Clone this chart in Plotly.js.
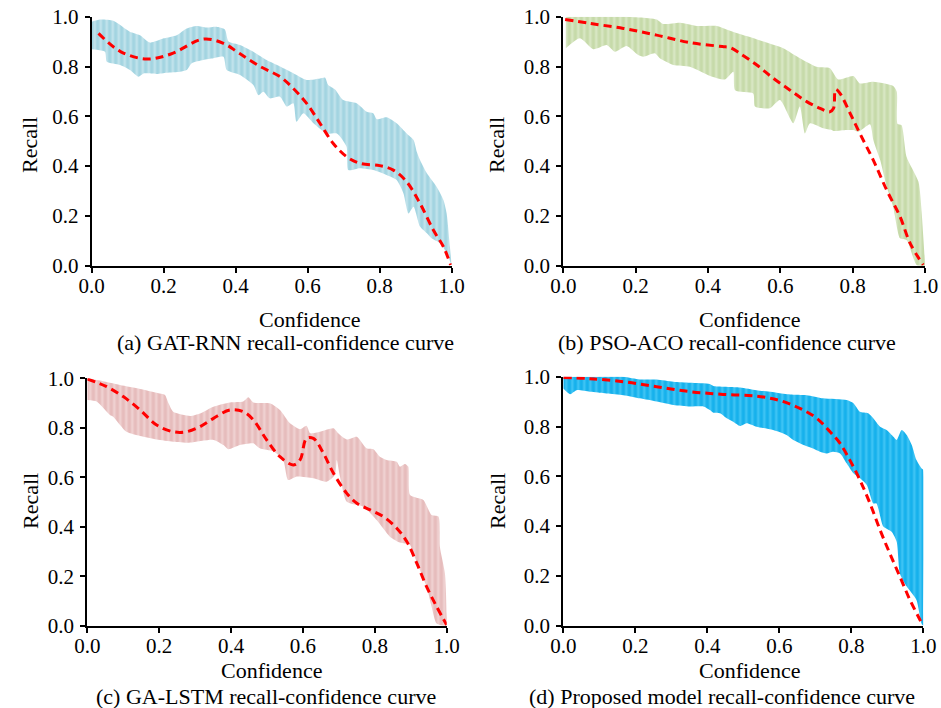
<!DOCTYPE html>
<html>
<head>
<meta charset="utf-8">
<script src="https://cdn.plot.ly/plotly-3.0.1.min.js"></script>
<style>html,body{margin:0;padding:0;background:#fff;}#chart{width:941px;height:708px;}</style>
</head>
<body>
<div id="chart"></div>
<script>
// ---------- Panel (a) GAT-RNN ----------
const aMeanX = [0.019,0.08,0.153,0.22,0.31,0.366,0.41,0.468,0.523,0.56,0.597,0.634,0.671,0.708,0.745,0.80,0.838,0.875,0.912,0.949,0.977,0.997];
const aMeanY = [0.933,0.86,0.83,0.85,0.91,0.893,0.853,0.80,0.759,0.712,0.652,0.572,0.491,0.438,0.411,0.402,0.384,0.337,0.25,0.143,0.076,0.003];
const aUpX = [0,0.023,0.06,0.106,0.134,0.162,0.2,0.236,0.264,0.292,0.319,0.347,0.37,0.38,0.412,0.449,0.486,0.523,0.56,0.597,0.634,0.648,0.657,0.676,0.699,0.736,0.764,0.782,0.792,0.819,0.847,0.875,0.894,0.903,0.912,0.931,0.958,0.977,0.986,0.995,1.0];
const aUpY = [0.98,0.989,0.984,0.94,0.926,0.896,0.913,0.926,0.953,0.963,0.957,0.96,0.949,0.90,0.886,0.859,0.826,0.80,0.773,0.746,0.752,0.756,0.726,0.708,0.665,0.652,0.618,0.612,0.588,0.596,0.572,0.531,0.505,0.458,0.424,0.371,0.317,0.264,0.21,0.076,0.0];
const aLoX = [0,0.037,0.042,0.079,0.106,0.13,0.144,0.181,0.208,0.245,0.264,0.278,0.31,0.338,0.366,0.375,0.412,0.449,0.463,0.477,0.495,0.523,0.542,0.56,0.569,0.588,0.616,0.653,0.681,0.708,0.713,0.745,0.782,0.819,0.847,0.866,0.88,0.894,0.912,0.931,0.944,0.968,0.986,1.0];
const aLoY = [0.869,0.859,0.819,0.806,0.786,0.759,0.772,0.77,0.775,0.779,0.786,0.813,0.826,0.833,0.839,0.786,0.766,0.726,0.685,0.699,0.672,0.679,0.639,0.652,0.578,0.612,0.572,0.531,0.531,0.478,0.384,0.391,0.384,0.364,0.344,0.29,0.21,0.237,0.157,0.13,0.11,0.09,0.05,0.0];

// ---------- Panel (b) PSO-ACO ----------
const bMeanX = [0.005,0.074,0.166,0.258,0.35,0.44,0.461,0.488,0.535,0.581,0.627,0.673,0.71,0.737,0.747,0.753,0.765,0.793,0.82,0.857,0.894,0.931,0.959,0.995];
const bMeanY = [0.989,0.973,0.953,0.926,0.896,0.88,0.876,0.853,0.806,0.752,0.705,0.659,0.632,0.618,0.632,0.708,0.692,0.612,0.531,0.424,0.304,0.197,0.09,0.003];
const bUpX = [0.007,0.028,0.074,0.12,0.166,0.212,0.258,0.276,0.323,0.369,0.424,0.461,0.507,0.562,0.608,0.654,0.70,0.737,0.76,0.802,0.82,0.857,0.912,0.922,0.924,0.935,0.949,0.982,0.991,1.0];
const bUpY = [1.0,1.0,1.0,1.0,1.0,0.997,0.989,0.971,0.976,0.963,0.963,0.944,0.922,0.896,0.873,0.833,0.799,0.793,0.748,0.762,0.732,0.739,0.722,0.699,0.569,0.565,0.438,0.337,0.21,0.01];
const bLoX = [0.007,0.046,0.083,0.12,0.143,0.175,0.207,0.221,0.253,0.267,0.304,0.35,0.406,0.447,0.47,0.475,0.525,0.53,0.571,0.599,0.636,0.654,0.668,0.682,0.719,0.742,0.747,0.783,0.802,0.816,0.848,0.857,0.876,0.894,0.912,0.931,0.949,0.977,1.0];
const bLoY = [0.873,0.913,0.869,0.886,0.859,0.882,0.846,0.839,0.853,0.833,0.806,0.799,0.762,0.748,0.779,0.705,0.692,0.639,0.632,0.665,0.572,0.639,0.531,0.572,0.552,0.545,0.541,0.545,0.545,0.538,0.568,0.505,0.424,0.317,0.237,0.11,0.103,0.003,0.0];

// ---------- Panel (c) GA-LSTM ----------
const cMeanX = [0,0.054,0.10,0.147,0.193,0.239,0.276,0.314,0.351,0.397,0.434,0.462,0.499,0.536,0.573,0.592,0.61,0.629,0.657,0.685,0.722,0.75,0.787,0.824,0.861,0.889,0.917,0.944,0.972,1.0];
const cMeanY = [0.997,0.966,0.926,0.872,0.811,0.784,0.784,0.805,0.838,0.872,0.865,0.832,0.751,0.683,0.65,0.67,0.757,0.757,0.697,0.616,0.535,0.495,0.468,0.441,0.394,0.34,0.252,0.158,0.077,0.003];
const cUpX = [0,0.035,0.091,0.147,0.193,0.216,0.226,0.239,0.286,0.314,0.351,0.397,0.434,0.448,0.462,0.508,0.536,0.564,0.592,0.61,0.62,0.647,0.685,0.698,0.722,0.75,0.777,0.796,0.814,0.833,0.861,0.87,0.884,0.893,0.898,0.935,0.958,0.977,0.981,0.995,1.0];
const cUpY = [1.0,0.991,0.973,0.957,0.942,0.933,0.899,0.865,0.848,0.858,0.885,0.902,0.906,0.923,0.902,0.899,0.872,0.818,0.794,0.808,0.778,0.784,0.798,0.778,0.753,0.764,0.717,0.713,0.683,0.67,0.663,0.643,0.654,0.643,0.528,0.508,0.447,0.441,0.319,0.212,0.05];
const cLoX = [0,0.026,0.063,0.072,0.109,0.147,0.193,0.239,0.286,0.351,0.379,0.392,0.425,0.462,0.48,0.518,0.545,0.559,0.583,0.629,0.666,0.689,0.694,0.703,0.722,0.768,0.805,0.842,0.87,0.898,0.907,0.944,0.958,0.972,1.0];
const cLoY = [0.912,0.906,0.852,0.845,0.784,0.767,0.753,0.744,0.74,0.751,0.73,0.713,0.73,0.737,0.717,0.704,0.67,0.589,0.603,0.596,0.582,0.609,0.67,0.603,0.501,0.481,0.427,0.36,0.336,0.326,0.292,0.158,0.077,0.009,0.0];

// ---------- Panel (d) Proposed model ----------
const dMeanX = [0,0.074,0.167,0.259,0.352,0.444,0.537,0.602,0.657,0.704,0.741,0.769,0.796,0.824,0.852,0.88,0.907,0.935,0.963,0.991,0.998];
const dMeanY = [0.997,0.992,0.98,0.96,0.94,0.929,0.922,0.904,0.873,0.833,0.779,0.732,0.665,0.585,0.491,0.384,0.29,0.197,0.103,0.023,0.003];
const dUpX = [0,0.074,0.167,0.213,0.259,0.306,0.352,0.407,0.417,0.491,0.537,0.593,0.63,0.676,0.722,0.787,0.806,0.824,0.847,0.861,0.88,0.898,0.917,0.926,0.94,0.954,0.968,0.981,0.995,1.0,1.0];
const dUpY = [1.0,1.0,1.0,0.989,0.989,0.98,0.976,0.971,0.963,0.957,0.946,0.936,0.929,0.926,0.913,0.906,0.893,0.859,0.853,0.833,0.799,0.786,0.759,0.746,0.786,0.766,0.726,0.665,0.632,0.625,0.05];
const dLoX = [0,0.019,0.037,0.074,0.12,0.167,0.213,0.259,0.306,0.352,0.389,0.407,0.417,0.435,0.454,0.472,0.491,0.509,0.537,0.583,0.62,0.639,0.667,0.694,0.713,0.731,0.75,0.769,0.787,0.806,0.824,0.843,0.861,0.87,0.889,0.912,0.926,0.935,0.954,0.981,0.995,1.0];
const dLoY = [0.953,0.93,0.946,0.94,0.933,0.926,0.913,0.90,0.886,0.88,0.88,0.866,0.855,0.853,0.833,0.819,0.802,0.813,0.799,0.786,0.766,0.746,0.726,0.712,0.699,0.692,0.699,0.692,0.652,0.612,0.592,0.565,0.491,0.491,0.398,0.377,0.337,0.21,0.157,0.103,0.009,0.0];

const tickVals = [0, 0.2, 0.4, 0.6, 0.8, 1.0];
const tickText = ['0.0', '0.2', '0.4', '0.6', '0.8', '1.0'];
const captions = ['(a) GAT-RNN recall-confidence curve', '(b) PSO-ACO recall-confidence curve',
                  '(c) GA-LSTM recall-confidence curve', '(d) Proposed model recall-confidence curve'];
const xTitle = 'Confidence';
const yTitle = 'Recall';

// ---------- layout helpers ----------
const W = 941, H = 708;
const px = v => v / W;
const py = v => 1 - v / H;
const FONT = 'Liberation Serif, Times New Roman, serif';
const FS = 22;
const TFS = 21;

const panels = [
  {upX: aUpX, upY: aUpY, loX: aLoX, loY: aLoY, mX: aMeanX, mY: aMeanY,
   bg: '#a3d4e1', fg: '#bfe2eb', dom: [91.7, 451.7, 16.7, 265.7],
   xt: [309, 319], yt: [30, 145], cap: [285, 342]},
  {upX: bUpX, upY: bUpY, loX: bLoX, loY: bLoY, mX: bMeanX, mY: bMeanY,
   bg: '#c6daa9', fg: '#d7e6c2', dom: [563.3, 925, 16.7, 265.7],
   xt: [749, 319], yt: [497, 145], cap: [727, 342]},
  {upX: cUpX, upY: cUpY, loX: cLoX, loY: cLoY, mX: cMeanX, mY: cMeanY,
   bg: '#e6bcbc', fg: '#efd0d0', dom: [87.3, 446.7, 378.3, 625.7],
   xt: [271, 670], yt: [30, 501], cap: [266, 696]},
  {upX: dUpX, upY: dUpY, loX: dLoX, loY: dLoY, mX: dMeanX, mY: dMeanY,
   bg: '#16b1ec', fg: '#3cc3f4', dom: [563.3, 923.3, 376.7, 625.7],
   xt: [749, 670], yt: [497, 501], cap: [722, 696]}
];

const traces = [];
const layout = {
  width: W, height: H, margin: {l: 0, r: 0, t: 0, b: 0},
  paper_bgcolor: '#ffffff', plot_bgcolor: '#ffffff',
  showlegend: false, font: {family: FONT, size: FS, color: '#000'},
  annotations: []
};

panels.forEach((p, i) => {
  const n = i + 1;
  const xa = n === 1 ? 'x' : 'x' + n;
  const ya = n === 1 ? 'y' : 'y' + n;
  const polyX = p.upX.concat(p.loX.slice().reverse());
  const polyY = p.upY.concat(p.loY.slice().reverse());
  traces.push({
    type: 'scatter', mode: 'lines', x: polyX, y: polyY, xaxis: xa, yaxis: ya,
    fill: 'toself', fillcolor: p.bg, line: {width: 0, color: p.bg, shape: 'spline', smoothing: 0.6},
    fillpattern: {shape: '|', bgcolor: p.bg, fgcolor: p.fg, size: 6, solidity: 0.45},
    hoverinfo: 'skip'
  });
  traces.push({
    type: 'scatter', mode: 'lines', x: p.mX, y: p.mY, xaxis: xa, yaxis: ya,
    line: {color: '#ff0000', width: 3, dash: '8px,5px', shape: 'spline', smoothing: 1.0},
    hoverinfo: 'skip'
  });
  const axCommon = {
    range: [0, 1], showgrid: false, zeroline: false, showline: true,
    linecolor: '#000', linewidth: 2, ticks: 'outside', ticklen: 5, tickwidth: 2,
    tickcolor: '#000', tickvals: tickVals, ticktext: tickText,
    tickfont: {family: FONT, size: TFS, color: '#000'}, fixedrange: true
  };
  layout['xaxis' + (n === 1 ? '' : n)] = Object.assign({}, axCommon, {
    domain: [px(p.dom[0]), px(p.dom[1])], anchor: ya, ticklabelstandoff: -5
  });
  layout['yaxis' + (n === 1 ? '' : n)] = Object.assign({}, axCommon, {
    domain: [py(p.dom[3]), py(p.dom[2])], anchor: xa, ticklabelstandoff: 2
  });
  layout.annotations.push({
    text: xTitle, xref: 'paper', yref: 'paper', x: px(p.xt[0]), y: py(p.xt[1]),
    xanchor: 'center', yanchor: 'middle', showarrow: false,
    font: {family: FONT, size: FS, color: '#000'}
  });
  layout.annotations.push({
    text: yTitle, xref: 'paper', yref: 'paper', x: px(p.yt[0]), y: py(p.yt[1]),
    xanchor: 'center', yanchor: 'middle', showarrow: false, textangle: -90,
    font: {family: FONT, size: FS, color: '#000'}
  });
  layout.annotations.push({
    text: captions[i], xref: 'paper', yref: 'paper', x: px(p.cap[0]), y: py(p.cap[1]),
    xanchor: 'center', yanchor: 'middle', showarrow: false,
    font: {family: FONT, size: FS, color: '#000'}
  });
});

Plotly.newPlot('chart', traces, layout, {displayModeBar: false, staticPlot: true});
</script>
</body>
</html>
